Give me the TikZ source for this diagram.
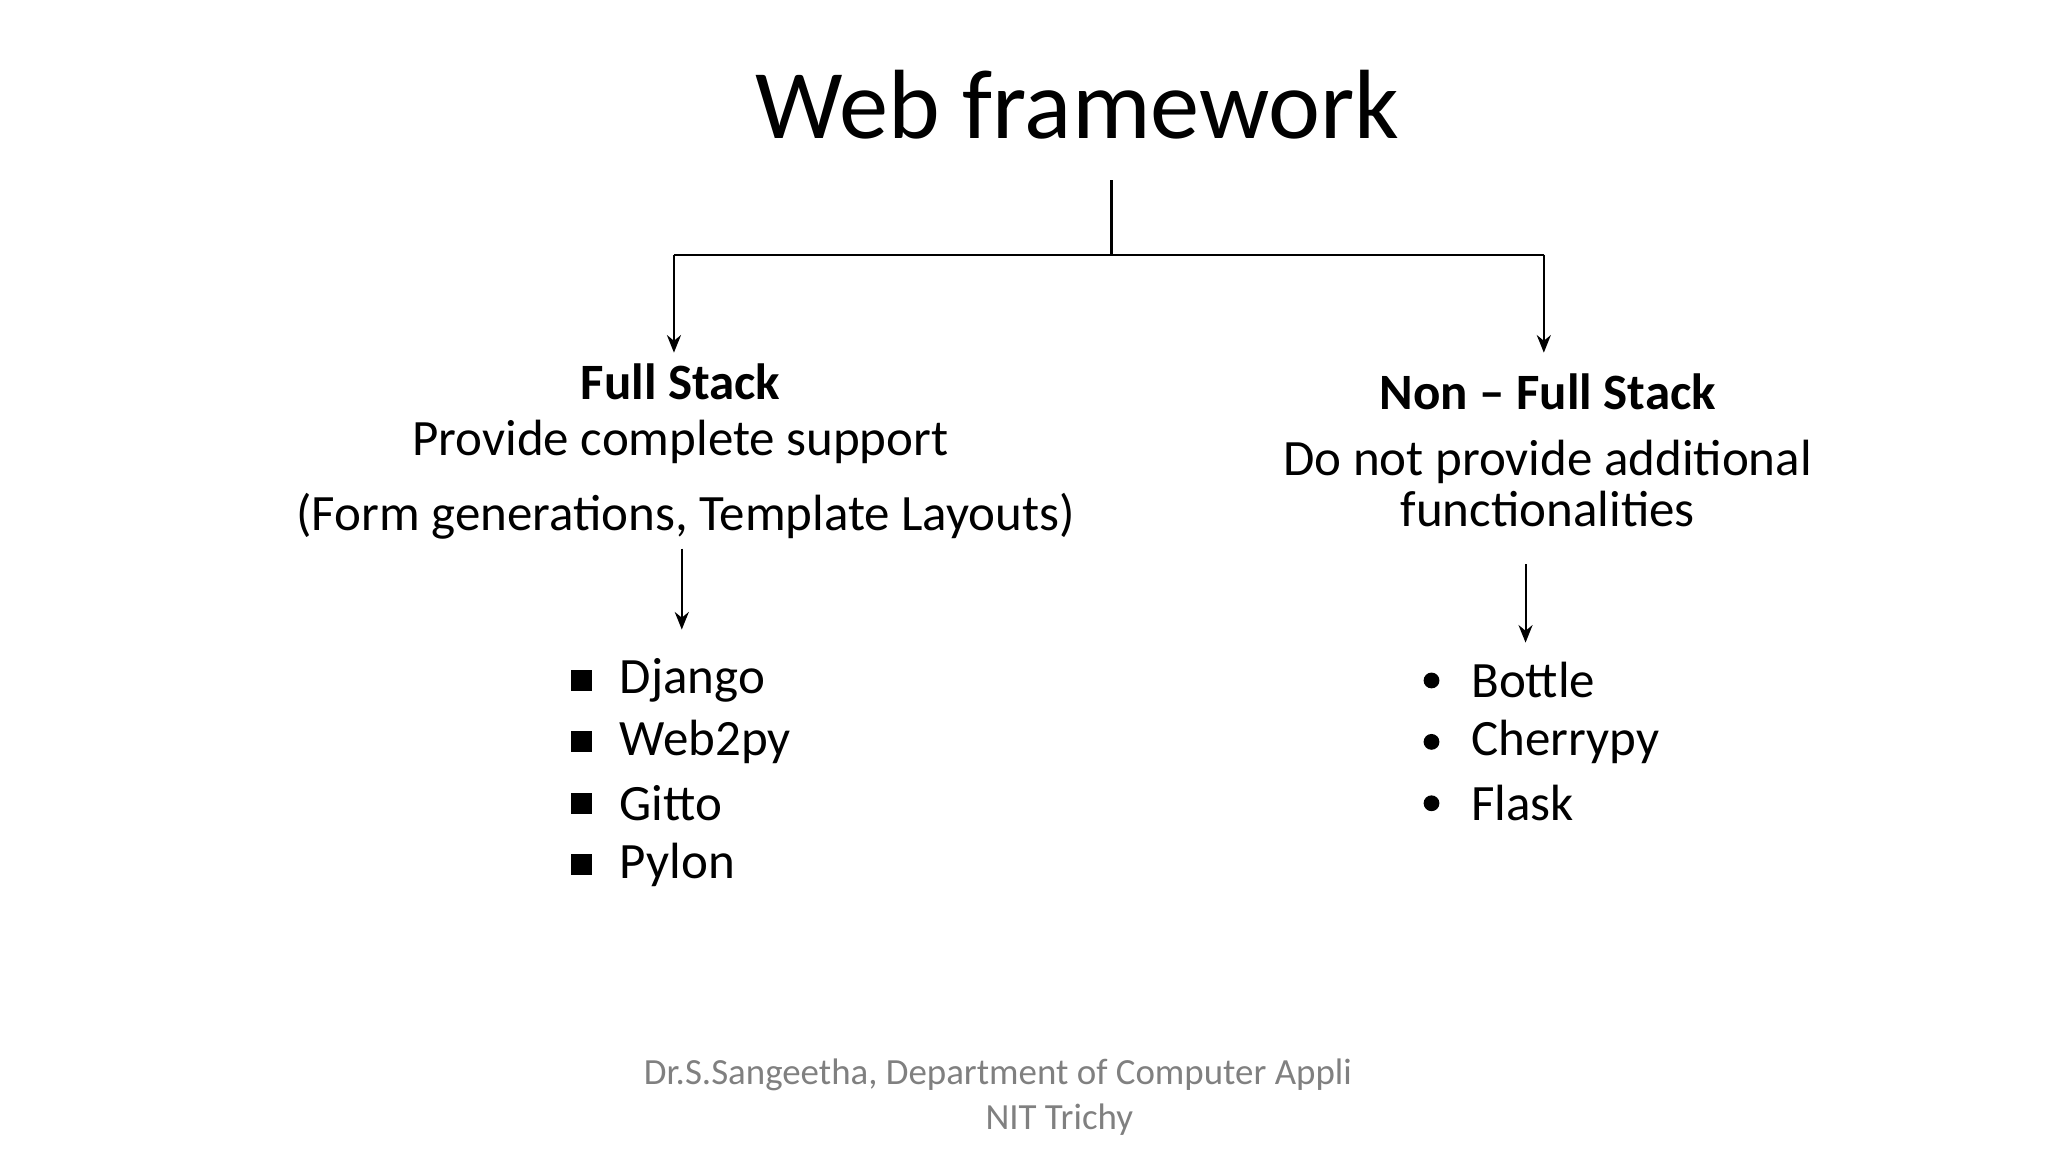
\documentclass[tikz,border=0pt]{standalone}
\usepackage{fontspec}
\setmainfont{Carlito}
\usetikzlibrary{arrows.meta}
\begin{document}
\begin{tikzpicture}[x=0.013061cm,y=-0.013061cm,
  txt/.style={inner sep=0pt,anchor=center,font=\fontsize{14.5}{16}\selectfont},
  item/.style={inner sep=0pt,anchor=west,font=\fontsize{14.5}{16}\selectfont},
  arr/.style={-{Stealth[length=5pt,width=4pt]},line width=0.6pt},
  ln/.style={line width=0.6pt}]
\useasboundingbox (0,0) rectangle (1568,882);
\node[inner sep=0pt,font=\fontsize{28}{30}\selectfont] (title) at (825,80) {Web framework};
\coordinate (top) at (851,138);
\coordinate (mid) at (851,195);
\coordinate (l) at (516,195);
\coordinate (r) at (1182,195);
\coordinate (la) at (516,270);
\coordinate (ra) at (1182,270);
\draw[ln] (top) -- (mid);
\draw[ln] (l) -- (r);
\draw[arr] (l) -- (la);
\draw[arr] (r) -- (ra);
\node[txt,font=\fontsize{14.5}{16}\selectfont\bfseries] (fs) at (521,292) {Full Stack};
\node[txt] (fs1) at (521,338) {Provide complete support};
\node[txt] (fs2) at (525,395) {(Form generations, Template Layouts)};
\coordinate (fa1) at (522,420); \coordinate (fa2) at (522,482);
\draw[arr] (fa1) -- (fa2);
\foreach \t [count=\i] in {Django,Web2py,Gitto,Pylon}{
  \node[item] (li\i) at (474,{474+47*\i}) {\t};
  \node[fill=black,minimum size=6pt,inner sep=0pt] (lb\i) at (445,{474+47*\i}) {};
}
\node[txt,font=\fontsize{14.5}{16}\selectfont\bfseries] (nfs) at (1185,300) {Non – Full Stack};
\node[txt] (nfs1) at (1185,354) {Do not provide additional};
\node[txt] (nfs2) at (1185,390) {functionalities};
\coordinate (na1) at (1168,432); \coordinate (na2) at (1168,492);
\draw[arr] (na1) -- (na2);
\foreach \t [count=\i] in {Bottle,Cherrypy,Flask}{
  \node[item] (ri\i) at (1126,{474+47*\i}) {\t};
  \node[circle,fill=black,minimum size=4.5pt,inner sep=0pt] (rb\i) at (1096,{474+47*\i}) {};
}
\node[inner sep=0pt,text=gray,font=\fontsize{10.5}{12}\selectfont] (f1) at (764,823) {Dr.S.Sangeetha, Department of Computer Appli};
\node[inner sep=0pt,text=gray,font=\fontsize{10.5}{12}\selectfont] (f2) at (811,857) {NIT Trichy};
\end{tikzpicture}
\end{document}
